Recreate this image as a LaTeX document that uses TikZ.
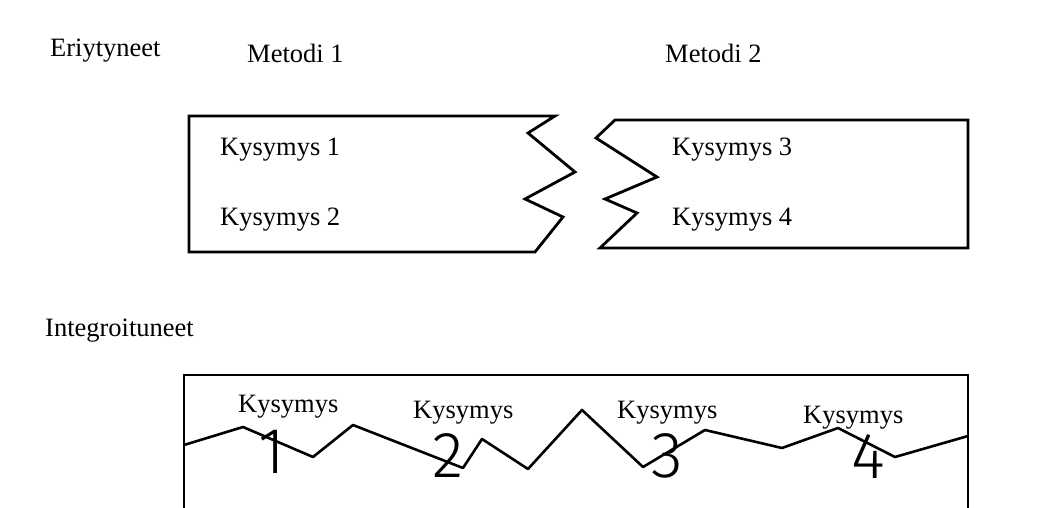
\documentclass[tikz,border=0pt]{standalone}
\usepackage{fontspec}
\setmainfont{Liberation Serif}
\newfontfamily\digitfont{Fira Sans Light}
\begin{document}
\begin{tikzpicture}[x=1pt,y=-1pt,
  lbl/.style={anchor=base west,inner sep=0pt,font=\fontsize{26.5}{30}\selectfont},
  digit/.style={anchor=base,inner sep=0pt,font=\digitfont\fontsize{65}{70}\selectfont},
  outline/.style={line width=2.8pt,line join=miter,draw=black},
  zig/.style={line width=2.6pt,line join=round,draw=black}]
\useasboundingbox (0,0) rectangle (1050,508);
\clip (0,0) rectangle (1050,508);
% top labels
\node[lbl] (eri) at (50,57) {Eriytyneet};
\node[lbl] (m1) at (247,63) {Metodi 1};
\node[lbl] (m2) at (665,63) {Metodi 2};
% left torn box
\draw[outline] (189,116) -- (555,116) -- (528,133) -- (575,172) -- (525,199)
  -- (563,217) -- (535,252) -- (189,252) -- cycle;
% right torn box
\draw[outline] (615,120) -- (968,120) -- (968,248) -- (600,248) -- (637,213)
  -- (605,199) -- (657,177) -- (596,138) -- cycle;
\node[lbl] (k1) at (220,156) {Kysymys 1};
\node[lbl] (k2) at (220,225) {Kysymys 2};
\node[lbl] (k3) at (672,156) {Kysymys 3};
\node[lbl] (k4) at (672,225) {Kysymys 4};
% integrated
\node[lbl] (int) at (45,336) {Integroituneet};
\draw[outline] (184,530) -- (184,375) -- (968,375) -- (968,530);
\draw[zig] (184,445) -- (243,427) -- (313,457) -- (353,425) -- (463,468)
  -- (482,439) -- (528,469) -- (582,410) -- (643,467) -- (705,430)
  -- (782,448) -- (838,428) -- (895,457) -- (968,436);
\node[lbl] (b1) at (238,412) {Kysymys};
\node[lbl] (b2) at (413,418) {Kysymys};
\node[lbl] (b3) at (617,418) {Kysymys};
\node[lbl] (b4) at (803,423) {Kysymys};
\node[digit] (d1) at (272,473) {1};
\node[digit] (d2) at (448,477) {2};
\node[digit] (d3) at (667,477) {3};
\node[digit] (d4) at (868,478) {4};
\end{tikzpicture}
\end{document}
